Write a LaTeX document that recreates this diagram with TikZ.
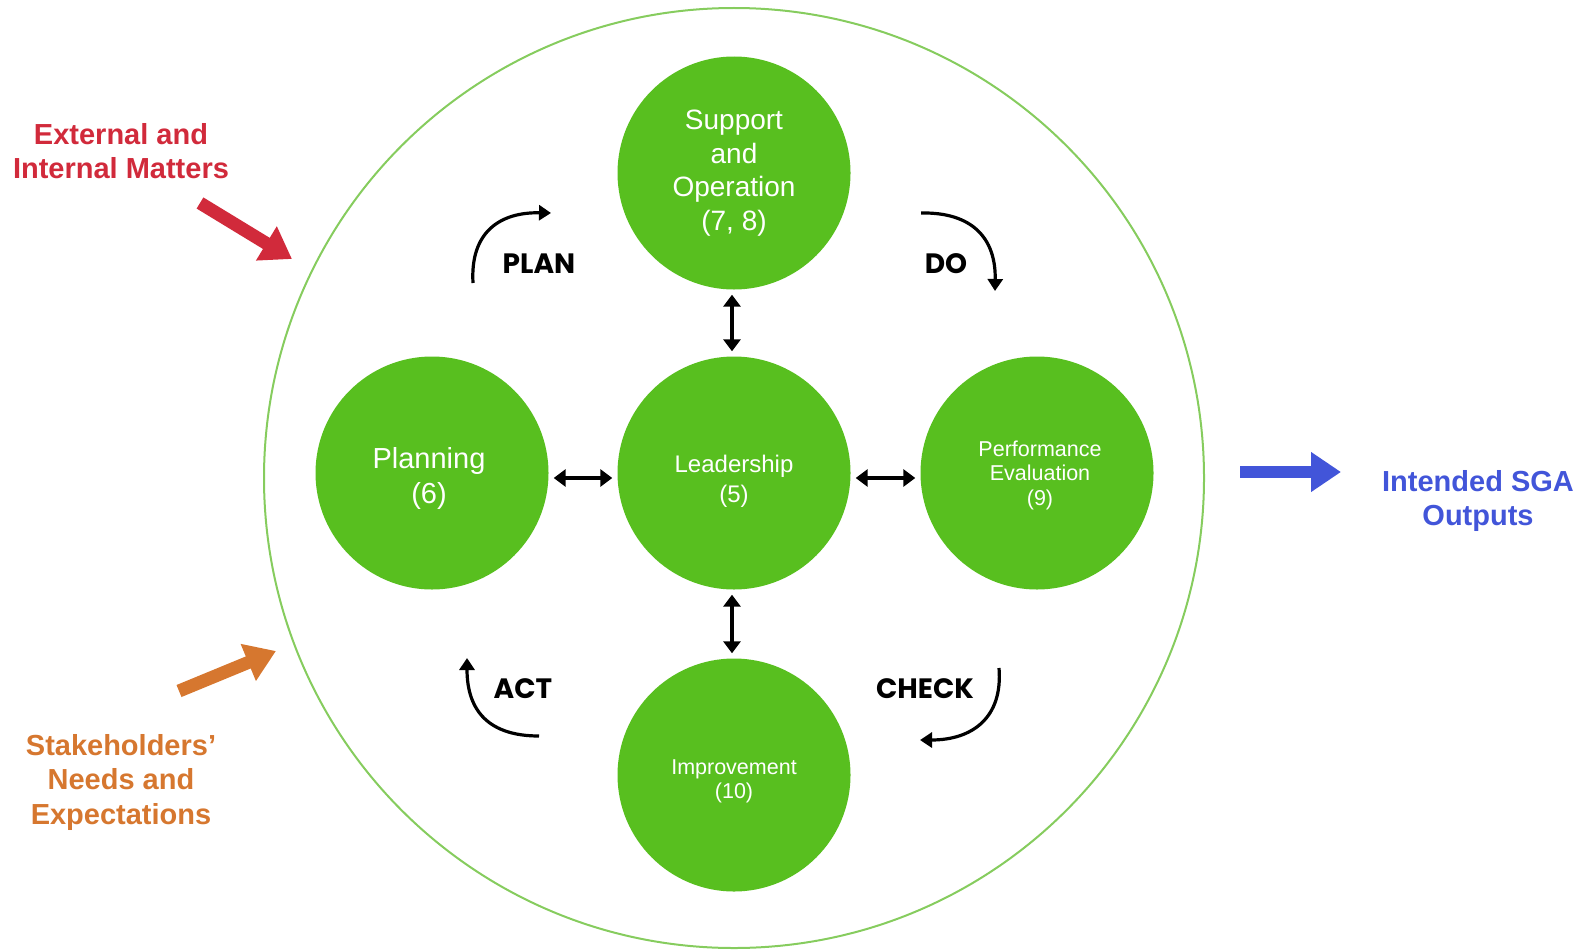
\documentclass[tikz,border=0pt]{standalone}
\usepackage{fontspec}
\setmainfont{Liberation Sans}
\newfontfamily\pdcafont{Poppins}
\usetikzlibrary{arrows.meta}
\definecolor{leaf}{HTML}{58BF1F}
\definecolor{ring}{HTML}{86CC5E}
\definecolor{extred}{HTML}{D12A3B}
\definecolor{stakeorange}{HTML}{D6772F}
\definecolor{outblue}{HTML}{4255D9}
\tikzset{
  stage/.style={circle, fill=leaf, draw=none, minimum size=233pt, inner sep=0pt},
  stagetext/.style={align=center, text=white, inner sep=0pt},
  link/.style={line width=3.3pt, {Triangle[length=12pt,width=17pt]}-{Triangle[length=12pt,width=17pt]},
    shorten <=5pt, shorten >=5pt},
  cycle/.style={line width=3.2pt, -{Triangle[length=12pt,width=15pt]}},
  pdca/.style={font=\pdcafont\bfseries\fontsize{28}{30}\selectfont, text=black},
  side/.style={align=center, font=\bfseries\fontsize{29}{34.5}\selectfont},
  bigarrow/.style={line width=13pt, -{Triangle[length=30pt,width=38pt]}}
}
\begin{document}
\begin{tikzpicture}[x=1pt,y=-1pt]
\useasboundingbox (0,0) rectangle (1578,950);

% outer boundary of the management system
\node[circle, draw=ring, line width=2pt, minimum size=940pt, inner sep=0pt] (outer) at (734,478) {};

% the five clauses
\node[stage] (sup) at (734,173) {};
\node[stage] (plan) at (432,473) {};
\node[stage] (lead) at (734,473) {};
\node[stage] (perf) at (1037,473) {};
\node[stage] (imp) at (734,775) {};

\node[stagetext, font=\fontsize{28}{33.5}\selectfont] (suptxt) at (sup.center) {Support\\and\\Operation\\(7, 8)};
\node[stagetext, font=\fontsize{29}{35}\selectfont] (plantitle) at ([xshift=-3pt,yshift=-5pt]plan.center) {Planning\\(6)};
\node[stagetext, font=\fontsize{24}{30.3}\selectfont] (leadtxt) at ([yshift=-8pt]lead.center) {Leadership\\(5)};
\node[stagetext, font=\fontsize{21.5}{24.5}\selectfont] (perftxt) at ([xshift=3pt,yshift=-2pt]perf.center) {Performance\\Evaluation\\(9)};
\node[stagetext, font=\fontsize{21.5}{24}\selectfont] (imptxt) at ([yshift=-6pt]imp.center) {Improvement\\(10)};

% two-way links with leadership
\draw[link] ([xshift=-2pt]sup.south) -- ([xshift=-2pt]lead.north);
\draw[link] ([xshift=-2pt]lead.south) -- ([xshift=-2pt]imp.north);
\draw[link] ([yshift=-5pt]plan.east) -- ([yshift=-5pt]lead.west);
\draw[link] ([yshift=-5pt]lead.east) -- ([yshift=-5pt]perf.west);

% PDCA cycle
\coordinate (planA) at (473,283);
\coordinate (planB) at (551,213);
\draw[cycle] (planA) .. controls (470,232) and (500,212) .. (planB);
\node[pdca] (plantxt) at (539,264) {PLAN};

\coordinate (doA) at (921,213);
\coordinate (doB) at (995,291);
\draw[cycle] (doA) .. controls (972,212) and (996,238) .. (doB);
\node[pdca] (dotxt) at (946,264) {DO};

\coordinate (checkA) at (999,668);
\coordinate (checkB) at (920,740);
\draw[cycle] (checkA) .. controls (1003,718) and (972,740) .. (checkB);
\node[pdca] (checktxt) at (925,689) {CHECK};

\coordinate (actA) at (539,736);
\coordinate (actB) at (467,658);
\draw[cycle] (actA) .. controls (490,736) and (467,712) .. (actB);
\node[pdca] (acttxt) at (523,689) {ACT};

% inputs and outputs
\node[side, text=extred] (ext) at (121,151) {External and\\Internal Matters};
\coordinate (extA) at (200,203);
\coordinate (extB) at (292,259);
\draw[bigarrow, draw=extred, fill=extred] (extA) -- (extB);

\node[side, text=stakeorange] (stake) at (121,782) {Stakeholders’\\Needs and\\Expectations};
\coordinate (stkA) at (179,691);
\coordinate (stkB) at (276,651);
\draw[bigarrow, draw=stakeorange, fill=stakeorange] (stkA) -- (stkB);

\coordinate (outA) at (1240,472);
\coordinate (outB) at (1341,472);
\draw[bigarrow, line width=12pt, draw=outblue, fill=outblue] (outA) -- (outB);
\node[side, text=outblue] (sga) at (1478,501) {Intended SGA\\Outputs};
\end{tikzpicture}
\end{document}
